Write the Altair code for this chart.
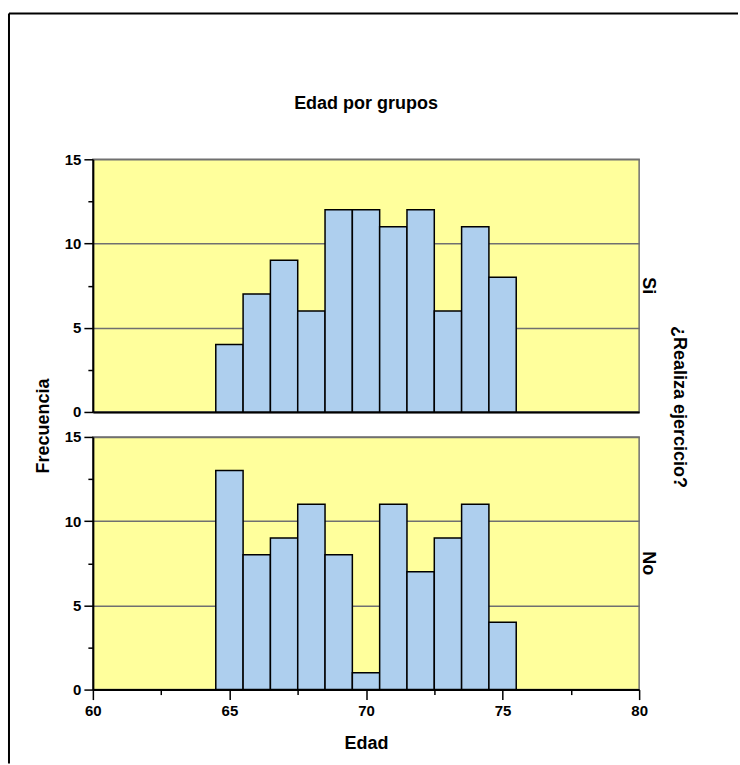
import altair as alt
import pandas as pd

# Histogram counts of age (one bar per year) for each exercise group
edades = [65, 66, 67, 68, 69, 70, 71, 72, 73, 74, 75]
frec_si = [4, 7, 9, 6, 12, 12, 11, 12, 6, 11, 8]
frec_no = [13, 8, 9, 11, 8, 1, 11, 7, 9, 11, 4]

x_ticks = [60, 62.5, 65, 67.5, 70, 72.5, 75, 77.5, 80]
y_ticks = [0, 2.5, 5, 7.5, 10, 12.5, 15]

FONT = "Liberation Sans"
AMARILLO = "#FFFF9C"
AZUL = "#AECFEE"
GRIS = "#707070"

W, H = 547, 253

y_axis = alt.Axis(
    values=y_ticks,
    title=None,
    labelExpr="datum.value % 5 === 0 ? datum.label : ''",
    labelOverlap=False,
    labelFlush=False,
    labelFont=FONT, labelFontSize=15, labelFontWeight="bold", labelColor="black",
    labelPadding=3,
    domainColor="black", domainWidth=2,
    tickColor="black", tickWidth=1.5, tickSize=9,
    grid=True, gridColor=GRIS, gridWidth=1.5,
    gridOpacity={"condition": {"test": "datum.value % 5 === 0", "value": 1}, "value": 0},
)
y_axis.tickSize = {"condition": {"test": "datum.value % 5 === 0", "value": 9}, "value": 5}


def x_axis(bottom):
    if not bottom:
        return alt.Axis(values=x_ticks, title=None, labels=False, ticks=False, grid=False,
                        domainColor="black", domainWidth=2)
    ax = alt.Axis(
        values=x_ticks,
        title="Edad",
        labelExpr="datum.value % 5 === 0 ? datum.label : ''",
        labelOverlap=False,
        labelFlush=False,
        labelFont=FONT, labelFontSize=15, labelFontWeight="bold", labelColor="black",
        labelPadding=4,
        titleFont=FONT, titleFontSize=18, titleFontWeight="bold", titleColor="black",
        titlePadding=16,
        domainColor="black", domainWidth=2,
        tickColor="black", tickWidth=1.5, tickSize=10,
        grid=False,
    )
    ax.tickSize = {"condition": {"test": "datum.value % 5 === 0", "value": 10}, "value": 5}
    return ax


def texto(t, x, y, size=18, angle=0):
    return alt.Chart(pd.DataFrame({"t": [t]})).mark_text(
        font=FONT, fontSize=size, fontWeight="bold", color="black",
        angle=angle, align="center", baseline="middle",
    ).encode(text="t:N", x=alt.value(x), y=alt.value(y))


def panel(counts, bottom):
    df = pd.DataFrame({"Edad": edades, "Frecuencia": counts})
    return alt.Chart(df).transform_calculate(
        inicio="datum.Edad - 0.5", fin="datum.Edad + 0.5"
    ).mark_bar(fill=AZUL, stroke="black", strokeWidth=1.5).encode(
        x=alt.X("inicio:Q", scale=alt.Scale(domain=[60, 80], nice=False, zero=False, padding=0),
                axis=x_axis(bottom)),
        x2="fin:Q",
        y=alt.Y("Frecuencia:Q", scale=alt.Scale(domain=[0, 15], nice=False, padding=0),
                axis=y_axis),
        y2=alt.datum(0),
    ).properties(width=W, height=H)


marco = pd.DataFrame({"k": [0]})
borde_sup = alt.Chart(marco).mark_rule(color="black", strokeWidth=2).encode(
    x=alt.value(-84), x2=alt.value(646), y=alt.value(-146))
borde_izq = alt.Chart(marco).mark_rule(color="black", strokeWidth=2).encode(
    x=alt.value(-84), y=alt.value(-146), y2=alt.value(605))

arriba = alt.layer(
    panel(frec_si, False),
    borde_sup, borde_izq,
    texto("Edad por grupos", W / 2, -55),
    texto("Frecuencia", -49, 267, angle=270),
    texto("Si", 556, H / 2, angle=90),
    texto("¿Realiza ejercicio?", 587, 248, angle=90),
)
abajo = alt.layer(
    panel(frec_no, True),
    texto("No", 556, H / 2, angle=90),
)

chart = alt.vconcat(arriba, abajo, spacing=25, bounds="flush").properties(
    padding={"left": 7, "top": 11, "right": 0, "bottom": 0},
    background="white",
).configure_view(fill=AMARILLO, stroke=GRIS, strokeWidth=1.5)

chart.save("out.html", embed_options={"renderer": "svg", "actions": False})
